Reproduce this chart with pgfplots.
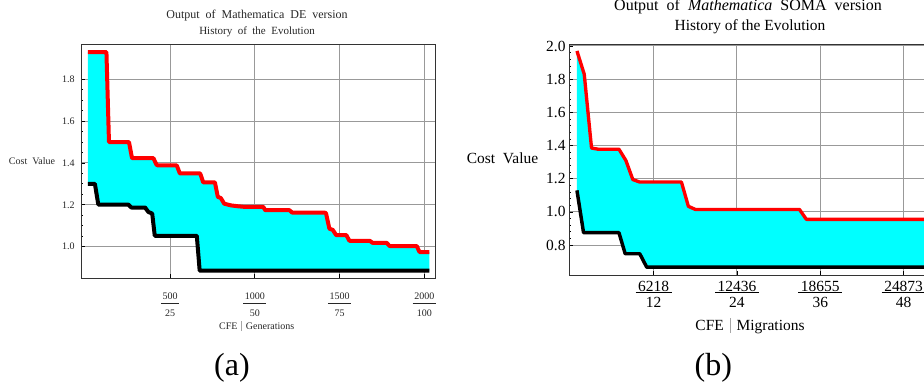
\documentclass[border=0pt]{standalone}
\usepackage{fontspec}
\setmainfont{Liberation Serif}
\usepackage{pgfplots}
\pgfplotsset{compat=1.18}
\usepgfplotslibrary{fillbetween}

\definecolor{aqua}{RGB}{0,255,255}
\definecolor{hired}{RGB}{255,0,0}

% CFE over generations / migrations, stacked as a fraction
\newcommand\fA[2]{\begin{tabular}{@{\,}c@{\,}}#1\\\hline\rule{0pt}{1.35em}#2\end{tabular}}
\newcommand\fB[2]{\begin{tabular}{@{\,}c@{\,}}#1\\[-0.25em]\hline\rule{0pt}{0.95em}#2\end{tabular}}
\newcommand\vsep{\hspace{0.4em}\textcolor{black!35}{\rule[-0.2em]{0.35pt}{1.0em}}\hspace{0.4em}}

\pgfplotsset{
  evo/.style={
    scale only axis, set layers,
    axis line style={black!80, line width=0.75pt},
    grid=major, major grid style={black!40, line width=0.75pt},
    tick align=inside, xtick pos=bottom, ytick pos=left,
    tick style={black, line width=0.6pt},
    major tick length=3pt, minor tick length=1.6pt,
    clip=false,
  },
  hist/.style={line width=#1, line join=round},
}

\begin{document}
\begin{tikzpicture}

% ---------------- (a) DE ----------------
\begin{axis}[evo,
  at={(60.75pt,-208.5pt)}, anchor=south west,
  width=265.5pt, height=174.75pt,
  xmin=-25, xmax=2063, ymin=0.85, ymax=1.964,
  xtick={500,1000,1500,2000},
  xticklabels={\fA{500}{25},\fA{1000}{50},\fA{1500}{75},\fA{2000}{100}},
  ytick={1.0,1.2,1.4,1.6,1.8},
  yticklabels={1.0,1.2,1.4,1.6,1.8},
  minor y tick num=3,
  ticklabel style={font=\fontsize{7.5}{9}\selectfont, text=black!85},
  xticklabel style={yshift=-6pt},
  yticklabel style={xshift=-1.2pt},
]
\addplot[hist=3pt, hired, name path=ra] coordinates {
 (15,1.93)(125,1.93)(140,1.50)(258,1.50)(276,1.423)(402,1.423)(420,1.392)
 (430,1.388)(540,1.388)(558,1.35)(678,1.35)(696,1.307)(765,1.307)(782,1.238)
 (800,1.232)(820,1.205)(860,1.197)(900,1.193)(940,1.19)(1050,1.19)(1062,1.174)
 (1205,1.174)(1220,1.163)(1410,1.163)(1420,1.16)(1440,1.086)(1460,1.08)
 (1480,1.055)(1540,1.055)(1558,1.028)(1678,1.028)(1695,1.018)(1778,1.018)
 (1795,1.003)(1955,1.003)(1972,0.974)(2030,0.974)};
\addplot[hist=3pt, black, name path=ba] coordinates {
 (15,1.30)(57,1.30)(77,1.201)(254,1.201)(272,1.187)(353,1.187)(372,1.166)
 (395,1.158)(410,1.052)(658,1.052)(675,0.885)(2030,0.885)};
\addplot[fill=aqua, draw=none] fill between[of=ra and ba];
\end{axis}

% ---------------- (b) SOMA ----------------
\begin{axis}[evo,
  at={(426.98pt,-206.25pt)}, anchor=south west,
  width=270.5pt, height=172.5pt,
  xmin=-0.15, xmax=51.8, ymin=0.62, ymax=2.006,
  xtick={12,24,36,48},
  xticklabels={\fB{6218}{12},\fB{12436}{24},\fB{18655}{36},\fB{24873}{48}},
  ytick={0.8,1.0,1.2,1.4,1.6,1.8,2.0},
  yticklabels={0.8,1.0,1.2,1.4,1.6,1.8,2.0},
  minor y tick num=4,
  ticklabel style={font=\fontsize{11.6}{13}\selectfont},
  xticklabel style={yshift=0.6pt},
  yticklabel style={xshift=0.7pt},
]
\addplot[hist=2.5pt, hired, name path=rb] coordinates {
 (0.95,1.97)(2,1.83)(3.05,1.385)(4,1.378)(7,1.378)(8,1.31)(9,1.195)(10,1.18)
 (16,1.18)(17,1.034)(18,1.015)(33,1.015)(34,0.955)(51,0.955)};
\addplot[hist=2.6pt, black, name path=bb] coordinates {
 (0.95,1.13)(1.9,0.875)(7,0.875)(7.9,0.748)(10,0.748)(11,0.667)(51,0.667)};
\addplot[fill=aqua, draw=none] fill between[of=rb and bb];
\end{axis}

% titles and labels
\begin{scope}[every node/.style={inner sep=0pt, anchor=base}]
\node[font=\fontsize{9}{10}\selectfont, text=black!85] at (192.75pt,-14.25pt)
  {Output\ \ of\ \ Mathematica\ \ DE\ \ version};
\node[font=\fontsize{8.25}{9}\selectfont, text=black!85] at (192.75pt,-26.25pt)
  {History\ \ of\ \ the\ \ Evolution};
\node[font=\fontsize{7.5}{9}\selectfont, text=black!85] at (192.5pt,-246.75pt)
  {CFE\vsep Generations};
\node[font=\fontsize{7.5}{9}\selectfont, text=black!85] at (24pt,-123.75pt)
  {Cost\ \ Value};
\node[font=\fontsize{12}{14}\selectfont] at (561pt,-8.25pt)
  {Output\ \ of\ \ \textit{Mathematica}\ \ SOMA\ \ version};
\node[font=\fontsize{11.6}{13}\selectfont] at (562.5pt,-23pt)
  {History of the Evolution};
\node[font=\fontsize{11.6}{13}\selectfont] at (562.5pt,-247.5pt)
  {CFE\vsep Migrations};
\node[font=\fontsize{11.6}{13}\selectfont] at (376.9pt,-123pt)
  {Cost\ \ Value};
\node[font=\fontsize{24}{28}\selectfont] at (174pt,-281.25pt) {(a)};
\node[font=\fontsize{24}{28}\selectfont] at (535pt,-281.25pt) {(b)};
\end{scope}

% the page is the 924 x 392 frame
\pgfresetboundingbox
\path[use as bounding box] (0,0) rectangle (693pt,-294pt);
\end{tikzpicture}
\end{document}
